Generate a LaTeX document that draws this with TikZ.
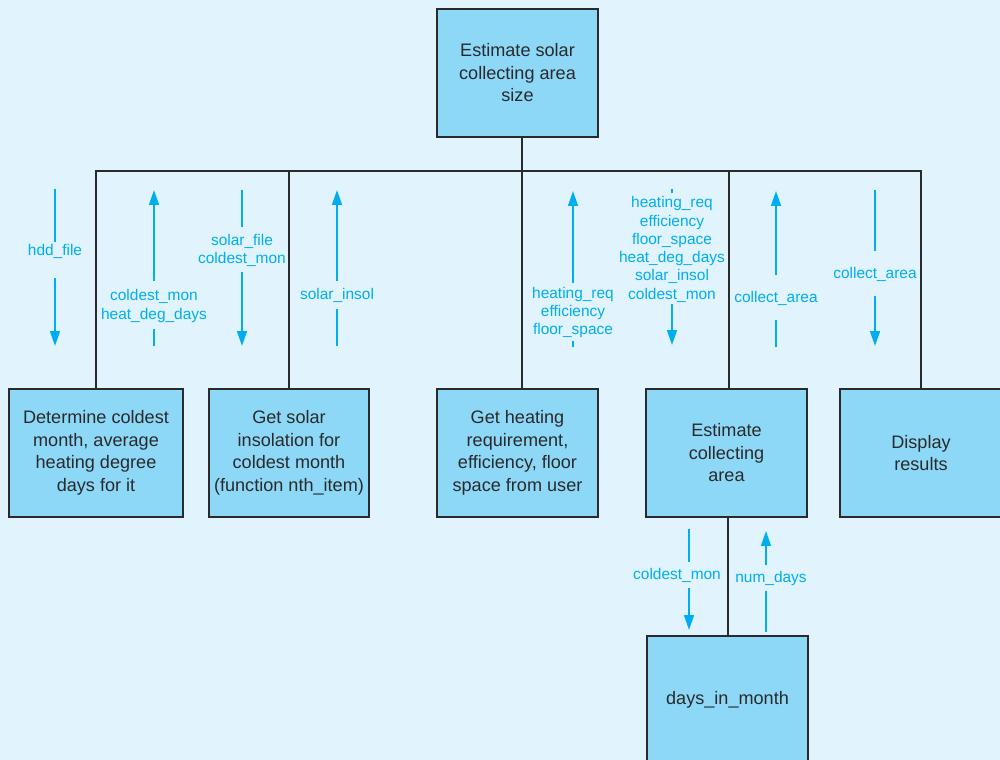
\documentclass[tikz,border=0pt]{standalone}
\usepackage{fontspec}
\setmainfont{Liberation Sans}
\usetikzlibrary{arrows.meta}
\definecolor{bgc}{HTML}{E1F3FC}
\definecolor{boxc}{HTML}{8DD8F7}
\definecolor{flowc}{HTML}{00AEEF}
\definecolor{inkc}{HTML}{2A2A2C}
\tikzset{
  box/.style={draw=inkc, fill=boxc, line width=1.4pt, align=center, inner sep=0pt,
    minimum height=2.56cm, text=inkc, font=\fontsize{10.3}{12.8}\selectfont},
  tree/.style={draw=inkc, line width=1.4pt},
  flow/.style={draw=flowc, line width=1.1pt},
  flowtip/.style={flow, -{Triangle[width=5.6pt,length=8.5pt]}},
  lbl/.style={text=flowc, align=center, inner sep=0pt, font=\fontsize{8.8}{10.4}\selectfont}
}
\begin{document}
\begin{tikzpicture}[x=0.02cm, y=-0.02cm]
\useasboundingbox (0,0) rectangle (1000,760);
\clip (0,0) rectangle (1000,760);
\fill[bgc] (0,0) rectangle (1000,760);

% boxes
\node[box, minimum width=3.22cm] (top) at (517.5,73) {Estimate solar\\collecting area\\size};
\node[box, minimum width=3.48cm] (b1) at (96,453) {Determine coldest\\month, average\\heating degree\\days for it};
\node[box, minimum width=3.2cm] (b2) at (289,453) {Get solar\\insolation for\\coldest month\\(function nth\_item)};
\node[box, minimum width=3.22cm] (b3) at (517.5,453) {Get heating\\requirement,\\efficiency, floor\\space from user};
\node[box, minimum width=3.22cm] (b4) at (726.5,453) {Estimate\\collecting\\area};
\node[box, minimum width=3.24cm] (b5) at (921,453) {Display\\results};
\node[box, minimum width=3.22cm] (b6) at (727.5,700) {days\_in\_month};

% tree connectors
\coordinate (j) at (522,171);
\coordinate (d4) at (729,171);
\coordinate (d6) at (728,600);
\draw[tree] (top.south -| j) -- (j);
\draw[tree] (b1.north) |- (j) -| (b5.north);
\draw[tree] (b2.north) -- (b2.north |- j);
\draw[tree] (b3.north -| j) -- (j);
\draw[tree] (b4.north -| d4) -- (d4);
\draw[tree] (b4.south -| d6) -- (b6.north -| d6);

% data flows: hdd_file (down)
\coordinate (f1a) at (55,189); \coordinate (f1b) at (55,242);
\coordinate (f1c) at (55,278); \coordinate (f1d) at (55,346);
\draw[flow] (f1a) -- (f1b); \draw[flowtip] (f1c) -- (f1d);
\node[lbl] (l1) at (55,251) {hdd\_file};

% coldest_mon, heat_deg_days (up)
\coordinate (f2a) at (154,346); \coordinate (f2b) at (154,329);
\coordinate (f2c) at (154,281); \coordinate (f2d) at (154,190);
\draw[flow] (f2a) -- (f2b); \draw[flowtip] (f2c) -- (f2d);
\node[lbl] (l2) at (154,306) {coldest\_mon\\heat\_deg\_days};

% solar_file, coldest_mon (down)
\coordinate (f3a) at (242,190); \coordinate (f3b) at (242,227);
\coordinate (f3c) at (242,272); \coordinate (f3d) at (242,346);
\draw[flow] (f3a) -- (f3b); \draw[flowtip] (f3c) -- (f3d);
\node[lbl] (l3) at (242,250.5) {solar\_file\\coldest\_mon};

% solar_insol (up)
\coordinate (f4a) at (337,346); \coordinate (f4b) at (337,309);
\coordinate (f4c) at (337,281); \coordinate (f4d) at (337,190);
\draw[flow] (f4a) -- (f4b); \draw[flowtip] (f4c) -- (f4d);
\node[lbl] (l4) at (337,295) {solar\_insol};

% heating_req, efficiency, floor_space (up)
\coordinate (f5a) at (573,347); \coordinate (f5b) at (573,341);
\coordinate (f5c) at (573,283); \coordinate (f5d) at (573,191);
\draw[flow] (f5a) -- (f5b); \draw[flowtip] (f5c) -- (f5d);
\node[lbl] (l5) at (573,312.5) {heating\_req\\efficiency\\floor\_space};

% six values (down)
\coordinate (f6a) at (672,189); \coordinate (f6b) at (672,193);
\coordinate (f6c) at (672,304); \coordinate (f6d) at (672,345);
\draw[flow] (f6a) -- (f6b); \draw[flowtip] (f6c) -- (f6d);
\node[lbl] (l6) at (672,249.5) {heating\_req\\efficiency\\floor\_space\\heat\_deg\_days\\solar\_insol\\coldest\_mon};

% collect_area (up)
\coordinate (f7a) at (776,347); \coordinate (f7b) at (776,320);
\coordinate (f7c) at (776,275); \coordinate (f7d) at (776,191);
\draw[flow] (f7a) -- (f7b); \draw[flowtip] (f7c) -- (f7d);
\node[lbl] (l7) at (776,298) {collect\_area};

% collect_area (down)
\coordinate (f8a) at (875,190); \coordinate (f8b) at (875,251);
\coordinate (f8c) at (875,296); \coordinate (f8d) at (875,346);
\draw[flow] (f8a) -- (f8b); \draw[flowtip] (f8c) -- (f8d);
\node[lbl] (l8) at (875,274) {collect\_area};

% coldest_mon (down, bottom)
\coordinate (f9a) at (689,529); \coordinate (f9b) at (689,562);
\coordinate (f9c) at (689,588); \coordinate (f9d) at (689,630);
\draw[flow] (f9a) -- (f9b); \draw[flowtip] (f9c) -- (f9d);
\node[lbl] (l9) at (677,575) {coldest\_mon};

% num_days (up, bottom)
\coordinate (f10a) at (766,632); \coordinate (f10b) at (766,591);
\coordinate (f10c) at (766,565); \coordinate (f10d) at (766,531);
\draw[flow] (f10a) -- (f10b); \draw[flowtip] (f10c) -- (f10d);
\node[lbl] (l10) at (771,578) {num\_days};
\end{tikzpicture}
\end{document}
